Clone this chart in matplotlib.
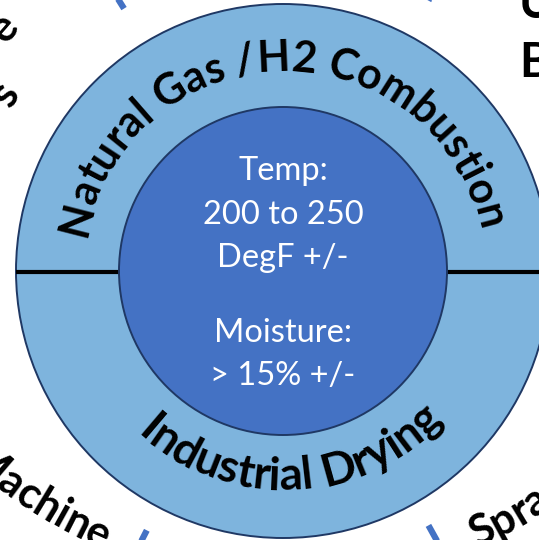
import numpy as np
import matplotlib
matplotlib.use("Agg")
import matplotlib.pyplot as plt
from matplotlib.patches import Circle
from matplotlib.font_manager import FontProperties
from matplotlib.textpath import TextToPath

# labels of the diagram
ring_top = "Natural Gas /H2 Combustion"
ring_bottom = "Industrial Drying"
inner_lines = ["Temp:", "200 to 250", "DegF +/-", "Moisture:", "> 15% +/-"]
inner_y = [171, 215, 258, 333, 376]
divider_angles = [61, 122, -61, -117]

W, H = 539, 540
cx, cy = 283, 271
R_out, R_in = 267, 164
PT = 100 / 72  # px per point

fig = plt.figure(figsize=(W / 100, H / 100), dpi=100)
ax = fig.add_axes([0, 0, 1, 1])
ax.set_xlim(0, W)
ax.set_ylim(H, 0)
ax.set_aspect('equal')
ax.axis('off')

light = '#7EB4DD'
dark = '#4472C4'
edge = '#1F3864'

outer = Circle((cx, cy), R_out, facecolor=light, edgecolor=edge, lw=1.4, zorder=1)
ax.add_patch(outer)
# dividing line across the ring
ln, = ax.plot([0, W], [cy + 0.5, cy + 0.5], color='black', lw=3, zorder=2, solid_capstyle='butt')
ln.set_clip_path(outer)
ax.add_patch(Circle((cx, cy), R_in, facecolor=dark, edgecolor=edge, lw=1.4, zorder=3))

# radial separators of the outer (cropped) ring
ocx, ocy = 283, 263
for a in divider_angles:
    t = np.radians(a)
    ax.plot([ocx + 300 * np.cos(t), ocx + 420 * np.cos(t)],
            [ocy - 300 * np.sin(t), ocy - 420 * np.sin(t)],
            color=dark, lw=4.5, solid_capstyle='butt', zorder=2)

t2p = TextToPath()


def wpre(s, fp):
    # advance width (px) of s, measured with a sentinel so spaces count
    w1 = t2p.get_text_width_height_descent(s + 'x', fp, ismath=False)[0]
    w0 = t2p.get_text_width_height_descent('x', fp, ismath=False)[0]
    return (w1 - w0) * PT


def arc_text(s, r, mid_deg, fp, clockwise=True, color='black', center=(cx, cy)):
    x0, y0 = center
    total = wpre(s, fp)
    sgn = -1 if clockwise else 1
    start = np.radians(mid_deg) - sgn * total / (2 * r)
    for i, ch in enumerate(s):
        if ch == ' ':
            continue
        c = (wpre(s[:i], fp) + wpre(s[:i + 1], fp)) / 2
        th = start + sgn * c / r
        x = x0 + r * np.cos(th)
        y = y0 - r * np.sin(th)
        rot = np.degrees(th) - 90 if clockwise else np.degrees(th) + 90
        ax.text(x, y, ch, rotation=rot, rotation_mode='anchor', ha='center',
                va='baseline', fontproperties=fp, color=color, zorder=5)


def bold(size):
    return FontProperties(family=['Lato', 'DejaVu Sans'], weight='bold', size=size)


arc_text(ring_top, 200, 91, bold(30.8), clockwise=True)
arc_text(ring_bottom, 219, -87.5, bold(33), clockwise=False)

# fragments of the outer ring labels (cut by the frame)
arc_text("e", 358, 139, bold(31), clockwise=True)
arc_text("s", 316, 147.5, bold(31), clockwise=True)
arc_text("Machine", 468, -122.8, bold(31), clockwise=False, center=(283, 118))
arc_text("Spra", 472, -60.5, bold(31), clockwise=False, center=(283, 118))
ax.text(519, 18, "U", fontproperties=bold(34), ha='left', va='baseline', zorder=5)
ax.text(519, 77, "B", fontproperties=bold(34), ha='left', va='baseline', zorder=5)

reg = FontProperties(family=['Lato', 'DejaVu Sans'], size=23.5)
for s, y in zip(inner_lines, inner_y):
    ax.text(cx, y, s, ha='center', va='center', fontproperties=reg, color='white', zorder=5)

fig.savefig('out.png', dpi=100)
